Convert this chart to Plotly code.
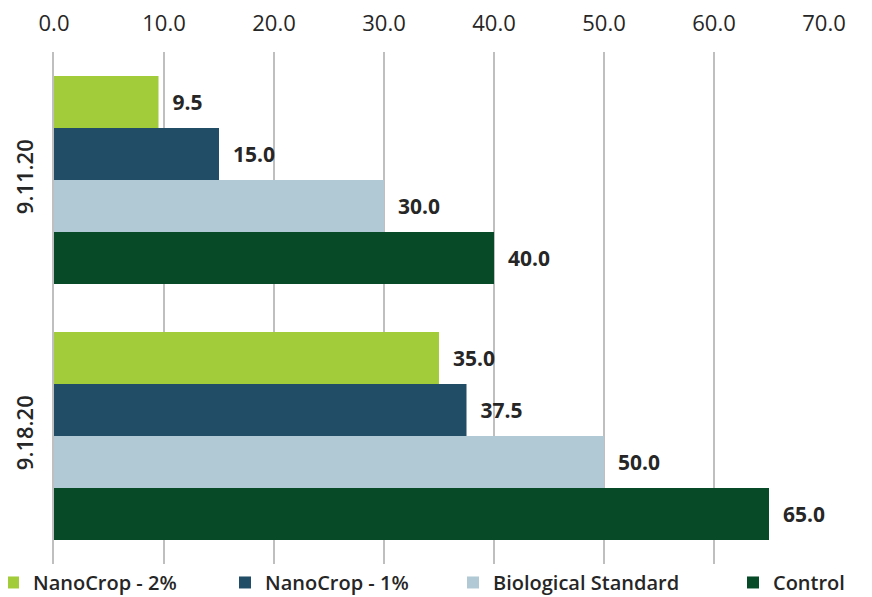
import plotly.graph_objects as go

categories = ["9.11.20", "9.18.20"]
series_names = ["NanoCrop - 2%", "NanoCrop - 1%", "Biological Standard", "Control"]
nanocrop_2 = [9.5, 35.0]
nanocrop_1 = [15.0, 37.5]
bio_standard = [30.0, 50.0]
control = [40.0, 65.0]
x_ticks = [0, 10, 20, 30, 40, 50, 60, 70]

colors = ["#A2CC3A", "#214D66", "#B1C9D5", "#074A28"]
values = [nanocrop_2, nanocrop_1, bio_standard, control]
legend_ids = ["legend", "legend2", "legend3", "legend4"]
legend_x = [-0.0792, 0.2221, 0.5182, 0.8818]

FONT = "Open Sans, Lato, sans-serif"
TXT = "#262626"

fig = go.Figure()
for name, vals, col, lg in zip(series_names, values, colors, legend_ids):
    fig.add_trace(go.Bar(
        name=name, y=categories, x=vals, orientation="h",
        marker=dict(color=col, line=dict(width=0)),
        texttemplate="\u00a0\u00a0%{x:.1f}", textposition="outside",
        textfont=dict(family=FONT, size=21, color=TXT, weight=700),
        outsidetextfont=dict(family=FONT, size=21, color=TXT, weight=700),
        cliponaxis=False, legend=lg, hoverinfo="x+name",
    ))

def leg(x):
    return dict(x=x, y=0.002, xanchor="left", yanchor="top", orientation="h",
                bgcolor="rgba(0,0,0,0)", borderwidth=0,
                font=dict(family=FONT, size=20, color=TXT, weight=600),
                itemwidth=30)

legends = {("legend" if i == 0 else f"legend{i+1}"): leg(x) for i, x in enumerate(legend_x)}

fig.update_layout(
    width=864, height=589,
    margin=dict(l=46, r=48, t=44, b=33, autoexpand=False),
    paper_bgcolor="white", plot_bgcolor="white",
    barmode="group", bargap=0.1875, bargroupgap=0,
    font=dict(family=FONT, color=TXT),
    showlegend=True,
    xaxis=dict(side="top", range=[0, 70], tickvals=x_ticks, tickformat=".1f",
               showgrid=True, gridcolor="#BFBFBF", gridwidth=1.5, zeroline=False,
               showline=False, ticks="", tickfont=dict(family=FONT, size=22, color=TXT),
               ticklabelstandoff=16, automargin=False),
    yaxis=dict(autorange="reversed", showgrid=False, zeroline=False,
               showline=True, linecolor="#BFBFBF", linewidth=1.5, ticks="",
               tickangle=-90, tickfont=dict(family=FONT, size=22, color=TXT, weight=600),
               ticklabelstandoff=10, automargin=False),
    **legends,
)

fig.write_html("out.html")
